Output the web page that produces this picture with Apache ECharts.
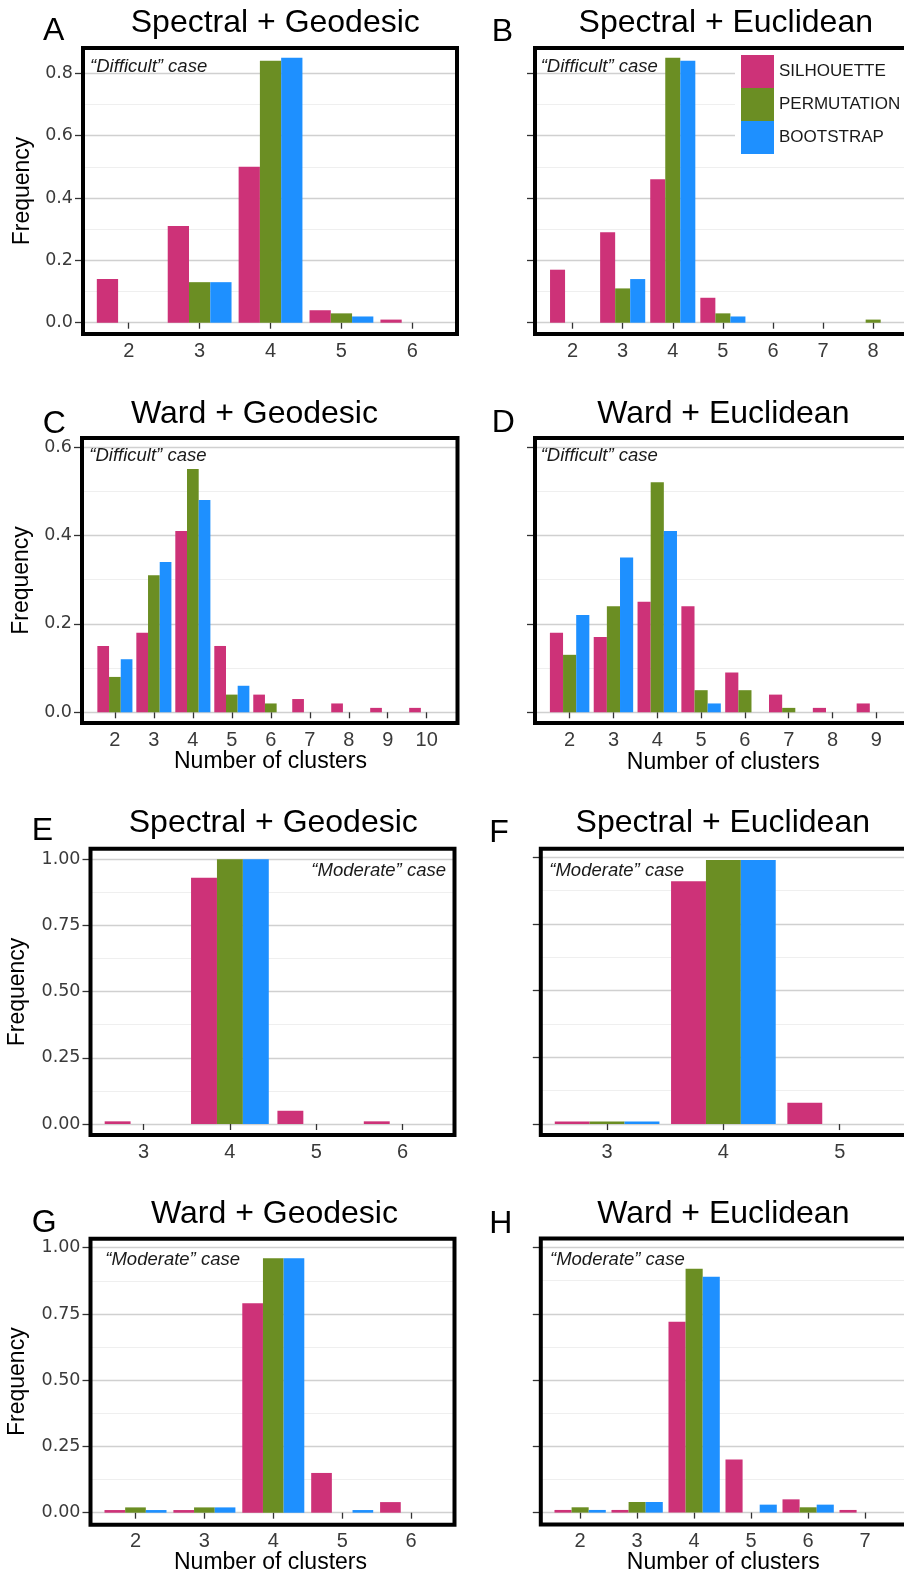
<!DOCTYPE html>
<html>
<head>
<meta charset="utf-8">
<script src="https://cdn.jsdelivr.net/npm/echarts@6/dist/echarts.min.js"></script>
<style>
  html, body { margin: 0; padding: 0; background: #ffffff; }
  #chart { width: 904px; height: 1575px; }
</style>
</head>
<body>
<div id="chart"></div>
<script>
// ---- Frequency of the selected number of clusters, per selection method ----
// A: Spectral + Geodesic ("Difficult")
const kA    = [2, 3, 4, 5, 6];
const silA  = [0.14, 0.31, 0.50, 0.04, 0.01];
const permA = [0.00, 0.13, 0.84, 0.03, 0.00];
const bootA = [0.00, 0.13, 0.85, 0.02, 0.00];
// B: Spectral + Euclidean ("Difficult")
const kB    = [2, 3, 4, 5, 6, 7, 8];
const silB  = [0.17, 0.29, 0.46, 0.08, 0.00, 0.00, 0.00];
const permB = [0.00, 0.11, 0.85, 0.03, 0.00, 0.00, 0.01];
const bootB = [0.00, 0.14, 0.84, 0.02, 0.00, 0.00, 0.00];
// C: Ward + Geodesic ("Difficult")
const kC    = [2, 3, 4, 5, 6, 7, 8, 9, 10];
const silC  = [0.15, 0.18, 0.41, 0.15, 0.04, 0.03, 0.02, 0.01, 0.01];
const permC = [0.08, 0.31, 0.55, 0.04, 0.02, 0.00, 0.00, 0.00, 0.00];
const bootC = [0.12, 0.34, 0.48, 0.06, 0.00, 0.00, 0.00, 0.00, 0.00];
// D: Ward + Euclidean ("Difficult")
const kD    = [2, 3, 4, 5, 6, 7, 8, 9];
const silD  = [0.18, 0.17, 0.25, 0.24, 0.09, 0.04, 0.01, 0.02];
const permD = [0.13, 0.24, 0.52, 0.05, 0.05, 0.01, 0.00, 0.00];
const bootD = [0.22, 0.35, 0.41, 0.02, 0.00, 0.00, 0.00, 0.00];
// E: Spectral + Geodesic ("Moderate")
const kE    = [3, 4, 5, 6];
const silE  = [0.01, 0.93, 0.05, 0.01];
const permE = [0.00, 1.00, 0.00, 0.00];
const bootE = [0.00, 1.00, 0.00, 0.00];
// F: Spectral + Euclidean ("Moderate")
const kF    = [3, 4, 5];
const silF  = [0.01, 0.91, 0.08];
const permF = [0.01, 0.99, 0.00];
const bootF = [0.01, 0.99, 0.00];
// G: Ward + Geodesic ("Moderate")
const kG    = [2, 3, 4, 5, 6];
const silG  = [0.01, 0.01, 0.79, 0.15, 0.04];
const permG = [0.02, 0.02, 0.96, 0.00, 0.00];
const bootG = [0.01, 0.02, 0.96, 0.01, 0.00];
// H: Ward + Euclidean ("Moderate")
const kH    = [2, 3, 4, 5, 6, 7];
const silH  = [0.01, 0.01, 0.72, 0.20, 0.05, 0.01];
const permH = [0.02, 0.04, 0.92, 0.00, 0.02, 0.00];
const bootH = [0.01, 0.04, 0.89, 0.03, 0.03, 0.00];

// y-axis breaks (labelled) and minor breaks
const yTicksTop    = [0, 0.2, 0.4, 0.6, 0.8];
const yMinorTop    = [0.1, 0.3, 0.5, 0.7];
const yTicksWard   = [0, 0.2, 0.4, 0.6];
const yMinorWard   = [0.1, 0.3, 0.5];
const yTicksMod    = [0, 0.25, 0.5, 0.75, 1];
const yMinorMod    = [0.125, 0.375, 0.625, 0.875];

const METHODS = ['SILHOUETTE', 'PERMUTATION', 'BOOTSTRAP'];
const COLORS  = ['#CD3278', '#6B8E23', '#1E90FF'];

const FONT = 'Liberation Sans, Arial, Helvetica, sans-serif';
const TICK_COLOR = '#333333';

// Panel layout: plot boxes, axis limits and text placement
const panels = [
  { letter: 'A', title: 'Spectral + Geodesic', k: kA, vals: [silA, permA, bootA],
    yTicks: yTicksTop, yMinor: yMinorTop, digits: 1, yLabels: true, note: '“Difficult” case',
    box: { left: 83, top: 48, width: 374, height: 286 }, xRange: [1.355, 6.63], yRange: [-0.0362, 0.881],
    titlePos: [275.3, 23], letterPos: [43, 31], notePos: [90, 66.5], noteAlign: 'left',
    yName: [22.2, 191], xName: null },
  { letter: 'B', title: 'Spectral + Euclidean', k: kB, vals: [silB, permB, bootB],
    yTicks: yTicksTop, yMinor: yMinorTop, digits: 1, yLabels: false, note: '“Difficult” case',
    box: { left: 535, top: 48, width: 376, height: 286 }, xRange: [1.25, 8.755], yRange: [-0.0362, 0.881],
    titlePos: [725.8, 23], letterPos: [491.7, 32], notePos: [540.7, 66.5], noteAlign: 'left',
    yName: null, xName: null },
  { letter: 'C', title: 'Ward + Geodesic', k: kC, vals: [silC, permC, bootC],
    yTicks: yTicksWard, yMinor: yMinorWard, digits: 1, yLabels: true, note: '“Difficult” case',
    box: { left: 82, top: 438, width: 375.5, height: 285 }, xRange: [1.156, 10.79], yRange: [-0.0242, 0.6203],
    titlePos: [254.5, 414], letterPos: [42.7, 424], notePos: [89.3, 455.5], noteAlign: 'left',
    yName: [22, 580.5], xName: [270.5, 762] },
  { letter: 'D', title: 'Ward + Euclidean', k: kD, vals: [silD, permD, bootD],
    yTicks: yTicksWard, yMinor: yMinorWard, digits: 1, yLabels: false, note: '“Difficult” case',
    box: { left: 535, top: 438, width: 376, height: 285 }, xRange: [1.21, 9.79], yRange: [-0.0242, 0.6203],
    titlePos: [723.3, 414], letterPos: [491.7, 423], notePos: [540.7, 455.5], noteAlign: 'left',
    yName: null, xName: [723.3, 762.5] },
  { letter: 'E', title: 'Spectral + Geodesic', k: kE, vals: [silE, permE, bootE],
    yTicks: yTicksMod, yMinor: yMinorMod, digits: 2, yLabels: true, note: '“Moderate” case',
    box: { left: 90.5, top: 848.7, width: 364, height: 286.3 }, xRange: [2.386, 6.6], yRange: [-0.0416, 1.040],
    titlePos: [273.3, 823.4], letterPos: [31.7, 830.7], notePos: [446, 871], noteAlign: 'right',
    yName: [17.5, 992], xName: null },
  { letter: 'F', title: 'Spectral + Euclidean', k: kF, vals: [silF, permF, bootF],
    yTicks: yTicksMod, yMinor: yMinorMod, digits: 2, yLabels: false, note: '“Moderate” case',
    box: { left: 540.8, top: 848.7, width: 376, height: 286.3 }, xRange: [2.43, 5.663], yRange: [-0.041, 1.032],
    titlePos: [722.8, 823.4], letterPos: [489.3, 833], notePos: [549.3, 871], noteAlign: 'left',
    yName: null, xName: null },
  { letter: 'G', title: 'Ward + Geodesic', k: kG, vals: [silG, permG, bootG],
    yTicks: yTicksMod, yMinor: yMinorMod, digits: 2, yLabels: true, note: '“Moderate” case',
    box: { left: 90.5, top: 1238.7, width: 364, height: 286 }, xRange: [1.347, 6.63], yRange: [-0.0453, 1.034],
    titlePos: [274.5, 1214], letterPos: [31.7, 1223], notePos: [105.3, 1260], noteAlign: 'left',
    yName: [17.5, 1381.7], xName: [270.5, 1562.7] },
  { letter: 'H', title: 'Ward + Euclidean', k: kH, vals: [silH, permH, bootH],
    yTicks: yTicksMod, yMinor: yMinorMod, digits: 2, yLabels: false, note: '“Moderate” case',
    box: { left: 540.8, top: 1238.6, width: 376, height: 286 }, xRange: [1.31, 7.906], yRange: [-0.0453, 1.034],
    titlePos: [723.3, 1214], letterPos: [489.3, 1224], notePos: [550, 1260], noteAlign: 'left',
    yName: null, xName: [723.3, 1562.7] }
];

const grids = [], xAxes = [], yAxes = [], series = [], texts = [];

panels.forEach((p, i) => {
  grids.push(Object.assign({
    show: true, borderColor: '#000000', borderWidth: 4, backgroundColor: 'transparent',
    containLabel: false, outerBoundsMode: 'none', z: 3
  }, p.box));

  xAxes.push({
    type: 'value', gridIndex: i, min: p.xRange[0], max: p.xRange[1],
    axisLine: { show: false },
    axisTick: { show: true, length: 6, customValues: p.k, lineStyle: { color: TICK_COLOR, width: 1.3 } },
    axisLabel: { show: true, customValues: p.k, margin: 7, fontSize: 20, fontFamily: FONT, color: '#3a3a3a' },
    splitLine: { show: false }
  });

  // labelled breaks with major grid lines
  yAxes.push({
    type: 'value', gridIndex: i, min: p.yRange[0], max: p.yRange[1], position: 'left',
    axisLine: { show: false },
    axisTick: { show: true, length: 8, customValues: p.yTicks, lineStyle: { color: TICK_COLOR, width: 1.3 } },
    axisLabel: {
      show: p.yLabels, customValues: p.yTicks, margin: 10,
      fontSize: 17.5, fontFamily: 'DejaVu Sans, sans-serif', color: '#3a3a3a',
      formatter: (v) => Number(v).toFixed(p.digits)
    },
    splitLine: { show: true, lineStyle: { color: '#d0d0d0', width: 1.4 } }
  });
  // minor grid lines only
  yAxes.push({
    type: 'value', gridIndex: i, min: p.yRange[0], max: p.yRange[1], position: 'left',
    axisLine: { show: false },
    axisTick: { show: false, customValues: p.yMinor },
    axisLabel: { show: false, customValues: p.yMinor },
    splitLine: { show: true, lineStyle: { color: '#efefef', width: 1 } }
  });

  METHODS.forEach((name, m) => {
    series.push({
      type: 'bar', name: name, xAxisIndex: i, yAxisIndex: 2 * i,
      barWidth: '30%', barGap: '0%',
      itemStyle: { color: COLORS[m] },
      silent: true,
      data: p.k.map((x, j) => [x, p.vals[m][j]])
    });
  });

  texts.push({
    type: 'text', x: p.titlePos[0], y: p.titlePos[1], silent: true,
    style: { text: p.title, fontSize: 32, fontFamily: FONT, fill: '#000000', align: 'center', verticalAlign: 'middle' }
  });
  texts.push({
    type: 'text', x: p.letterPos[0], y: p.letterPos[1], silent: true,
    style: { text: p.letter, fontSize: 32, fontFamily: FONT, fill: '#000000', align: 'left', verticalAlign: 'middle' }
  });
  texts.push({
    type: 'text', x: p.notePos[0], y: p.notePos[1], silent: true, z: 10,
    style: { text: p.note, fontSize: 18.5, fontStyle: 'italic', fontFamily: FONT, fill: '#1a1a1a', align: p.noteAlign, verticalAlign: 'middle' }
  });
  if (p.yName) {
    texts.push({
      type: 'text', x: p.yName[0], y: p.yName[1], rotation: Math.PI / 2, silent: true,
      style: { text: 'Frequency', fontSize: 23, fontFamily: FONT, fill: '#000000', align: 'center', verticalAlign: 'middle' }
    });
  }
  if (p.xName) {
    texts.push({
      type: 'text', x: p.xName[0], y: p.xName[1], silent: true,
      style: { text: 'Number of clusters', fontSize: 23, fontFamily: FONT, fill: '#000000', align: 'center', verticalAlign: 'middle' }
    });
  }
});

const chart = echarts.init(document.getElementById('chart'), null, { renderer: 'canvas' });
chart.setOption({
  animation: false,
  backgroundColor: '#ffffff',
  grid: grids,
  xAxis: xAxes,
  yAxis: yAxes,
  series: series,
  legend: {
    data: METHODS, orient: 'vertical', left: 735, top: 50,
    padding: [5, 4, 5, 6], itemGap: 0, itemWidth: 33, itemHeight: 33, icon: 'rect',
    backgroundColor: '#ffffff', selectedMode: false, z: 6,
    textStyle: { fontSize: 17, fontFamily: FONT, color: '#1a1a1a' }
  },
  graphic: { elements: texts }
});
</script>
</body>
</html>
